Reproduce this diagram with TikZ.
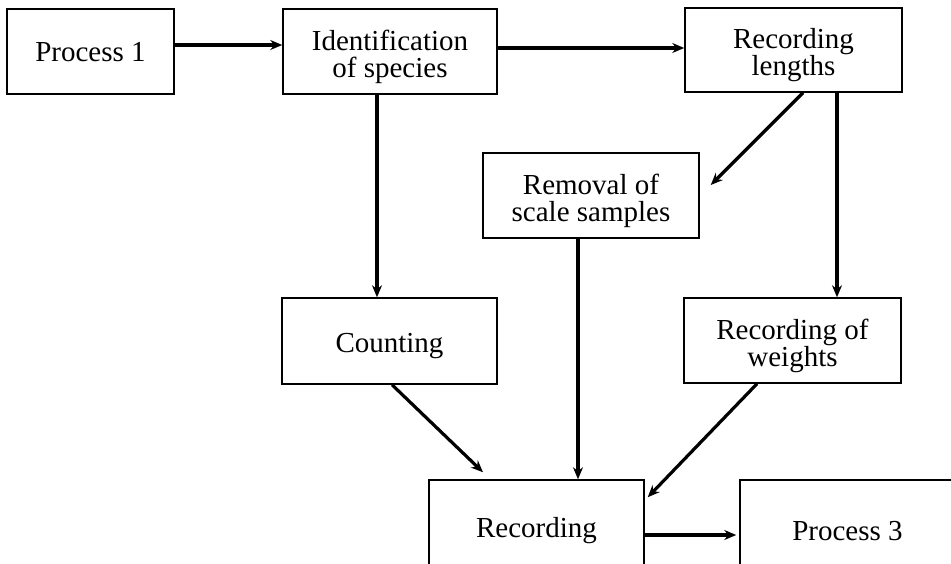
\documentclass[tikz,border=0pt]{standalone}
\usepackage{fontspec}
\setmainfont{Liberation Serif}
\usetikzlibrary{calc,arrows.meta}
\begin{document}
\begin{tikzpicture}[x=1pt,y=-1pt,
  stepbox/.style={draw,line width=1.5pt,rectangle,inner sep=0pt},
  txt/.style={align=center,inner sep=0pt,yshift=-5pt,
    font=\fontsize{29}{27}\selectfont},
  arr/.style={line width=3.2pt,-{Stealth[length=12pt,width=10pt]}}]
\useasboundingbox (0,0) rectangle (951,564);
\clip (0,0) rectangle (951,564);
% process boxes, each with its caption set a little below the middle
\node[stepbox,minimum width=167pt,minimum height=85pt,
  label={[txt,yshift=4pt]center:Process 1}] (p1) at (90.5,51.5) {};
\node[stepbox,minimum width=214pt,minimum height=85pt,
  label={[txt]center:Identification\\of species}] (id) at (390,51.5) {};
\node[stepbox,minimum width=217pt,minimum height=84pt,
  label={[txt]center:Recording\\lengths}] (rl) at (793.5,50) {};
\node[stepbox,minimum width=216pt,minimum height=85pt,
  label={[txt]center:Removal of\\scale samples}] (rm) at (591,195.5) {};
\node[stepbox,minimum width=215pt,minimum height=86pt,
  label={[txt]center:Counting}] (ct) at (389.5,341) {};
\node[stepbox,minimum width=217pt,minimum height=85pt,
  label={[txt]center:Recording of\\weights}] (rw) at (792.5,340.5) {};
\node[stepbox,minimum width=215pt,minimum height=100pt,
  label={[txt,yshift=4pt]center:Recording}] (rec) at (536.5,530) {};
\node[stepbox,minimum width=215pt,minimum height=100pt,
  label={[txt,yshift=4pt]center:Process 3}] (p3) at (847.5,530) {};
% connectors
\draw[arr] ($(p1.east)+(0,-6.5)$) -- ($(id.west)+(0,-6.5)$);
\draw[arr] ($(id.east)+(0,-3.5)$) -- ($(rl.west)+(0,-2)$);
\draw[arr] ($(id.south)+(-13,0)$) -- ($(ct.north)+(-12.5,0)$);
\draw[arr] ($(rl.south)+(43.5,0)$) -- ($(rw.north)+(44.5,0)$);
\draw[arr] ($(rl.south)+(9.5,0)$) -- ($(rm.east)+(11,-10.5)$);
\draw[arr] ($(rm.south)+(-13,0)$) -- ($(rec.north)+(41.5,0)$);
\draw[arr] ($(ct.south)+(2.5,0)$) -- ($(rec.north)+(-53.5,-7)$);
\draw[arr] ($(rw.south)+(-35.5,0)$) -- ($(rec.north east)+(3,18)$);
\draw[arr] ($(rec.east)+(0,5)$) -- ($(p3.west)+(-3,5)$);
\end{tikzpicture}
\end{document}
